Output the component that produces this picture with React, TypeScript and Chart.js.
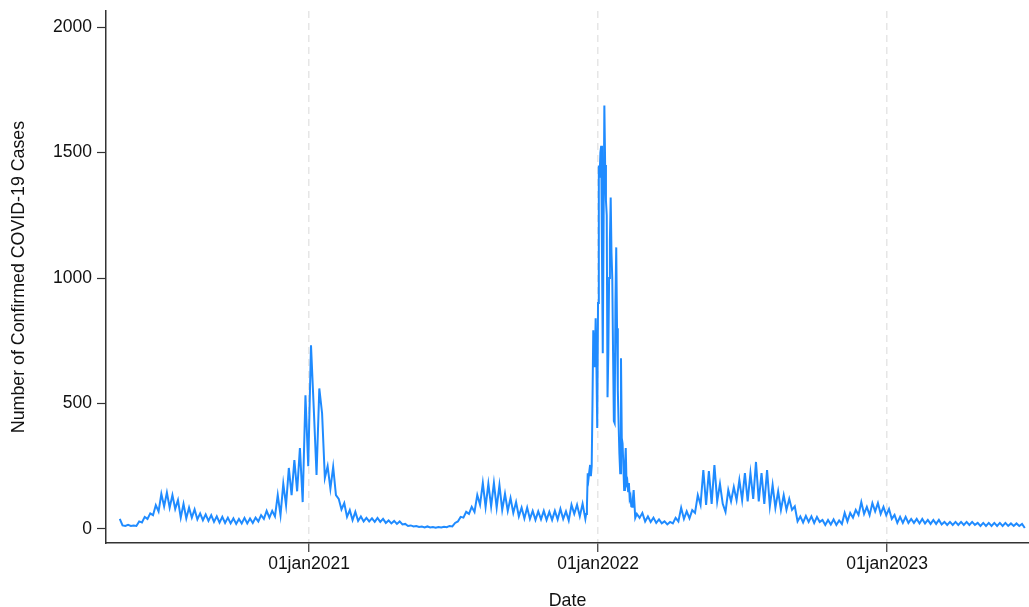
import { useEffect, useRef } from "react";
import { Chart, registerables } from "chart.js";

Chart.register(...registerables);

// Day numbers count from 1 Jan 2020 (day 0).
const earlyStartDay = 127; // 7 May 2020, half-weekly readings
const omicronStartDay = 716; // 17 Dec 2021, daily readings through the Omicron peak
const lateStartDay = 780; // 19 Feb 2022, half-weekly readings
const halfWeek = 3.5;

// Confirmed cases, May 2020 - mid Dec 2021
const earlyCases = [
  40, 14, 12, 16, 12, 14, 12, 30, 26, 48,
  40, 62, 55, 95, 70, 140, 90, 145, 85, 135,
  80, 115, 45, 100, 42, 85, 45, 78, 38, 62,
  35, 58, 32, 55, 28, 50, 25, 48, 24, 45,
  22, 42, 20, 40, 22, 44, 22, 42, 24, 45,
  30, 55, 40, 72, 45,
  72, 50, 135, 55, 180, 95, 243, 135, 274, 150,
  322, 107, 533, 250, 732, 480, 215, 560, 461, 203,
  250, 160, 247, 135, 120, 78, 103, 48, 75, 35,
  68, 32, 50, 30,
  44, 30, 42, 28, 44, 28, 40, 24, 34, 22,
  32, 20, 30, 18, 20, 12, 14, 10, 12, 8,
  10, 6, 10, 6, 8, 5, 8, 6, 9, 7,
  12, 10, 24, 30, 48, 45, 68, 60, 88, 68,
  135, 96, 183, 88, 180, 90, 183, 85, 175, 76,
  140, 72, 123, 64, 107, 50,
  85, 42, 85, 40, 72, 36, 70, 38, 72, 36,
  68, 36, 72, 38, 80, 40, 70, 34, 96, 60,
  96, 50, 100, 40,
];

// Confirmed cases, mid Dec 2021 - mid Feb 2022 (daily)
const omicronCases = [
  60, 90, 222, 200, 230, 255, 210, 250, 500, 792,
  700, 645, 840, 650, 402, 900, 1448, 1400, 1500, 1527,
  1100, 700, 1200, 1687, 1450, 1309, 1250, 525, 700, 1000,
  1150, 1321, 1100, 1000, 700, 430, 422, 900, 1122, 800,
  553, 420, 300, 222, 680, 362, 340, 250, 155, 250,
  322, 180, 190, 150, 183, 120, 130, 90, 88, 120,
  155, 100, 44,
];

// Confirmed cases, Feb 2022 - Jun 2023
const lateCases = [
  60, 44, 64, 30, 50, 28, 45, 24, 38, 22,
  30, 18, 28, 22, 44, 30, 84, 40, 70, 42,
  75, 64, 135, 96, 235, 96, 231, 100, 255, 110,
  180, 100, 68, 155, 110, 167, 115, 195, 115, 223,
  110, 223, 120, 267, 110, 223, 100, 235, 90, 175,
  84, 150, 76, 135, 76, 120, 76, 90, 30, 50,
  26, 52, 28, 50, 24, 48, 28, 36, 16, 36,
  18, 38, 16, 34, 20, 64, 30, 64, 45, 76,
  56, 107, 60, 88, 55, 103, 70, 103, 60, 88,
  55, 80, 40, 56, 24, 48, 24, 48, 24, 40,
  24, 40, 22, 40, 22, 36, 20, 36, 20, 36,
  18, 28, 16, 28, 16, 28, 16, 28, 16, 28,
  16, 28, 16, 24, 12, 24, 12, 24, 12, 24,
  12, 24, 12, 24, 12, 22, 12, 22, 12, 20,
  4,
];

const tickDays = [366, 731, 1096];
const tickLabels = ["01jan2021", "01jan2022", "01jan2023"];
const yTicks = [0, 500, 1000, 1500, 2000];

const FONT = '"Liberation Sans", Arial, Helvetica, sans-serif';
const TEXT = "#111111";
const AXIS = "#333333";

function buildPoints() {
  const pts: { x: number; y: number }[] = [];
  earlyCases.forEach((v, i) => pts.push({ x: earlyStartDay + i * halfWeek, y: v }));
  omicronCases.forEach((v, i) => pts.push({ x: omicronStartDay + i, y: v }));
  lateCases.forEach((v, i) => pts.push({ x: lateStartDay + i * halfWeek, y: v }));
  return pts;
}

export default function App() {
  const canvasRef = useRef<HTMLCanvasElement | null>(null);

  useEffect(() => {
    if (!canvasRef.current) return;
    const chart = new Chart(canvasRef.current, {
      type: "line",
      data: {
        datasets: [
          {
            data: buildPoints(),
            borderColor: "#1f8bff",
            borderWidth: 2,
            pointRadius: 0,
            tension: 0,
            fill: false,
          },
        ],
      },
      options: {
        animation: false,
        responsive: false,
        layout: { padding: { top: 11, right: 0, left: 0, bottom: 0 } },
        plugins: { legend: { display: false }, tooltip: { enabled: false } },
        scales: {
          x: {
            type: "linear",
            min: 109.6,
            max: 1275.3,
            afterBuildTicks: (s: any) => {
              s.ticks = tickDays.map((v) => ({ value: v }));
            },
            afterFit: (s: any) => {
              s.height = 64;
              s.paddingLeft = 0;
              s.paddingRight = 0;
            },
            ticks: {
              autoSkip: false,
              maxRotation: 0,
              padding: 2,
              color: TEXT,
              font: { family: FONT, size: 17.5 },
              callback: (v: any) => {
                const k = tickDays.indexOf(Number(v));
                return k >= 0 ? tickLabels[k] : "";
              },
            },
            grid: {
              color: "#e6e6e6",
              lineWidth: 1.5,
              drawOnChartArea: true,
              drawTicks: true,
              tickLength: 9,
              tickColor: AXIS,
              tickWidth: 1.2,
              tickBorderDash: [],
            },
            border: { display: true, color: AXIS, width: 1.5, dash: [7, 5] },
            title: {
              display: true,
              text: "Date",
              color: TEXT,
              font: { family: FONT, size: 17.8 },
              padding: { top: 0, bottom: -5 },
            },
          },
          y: {
            type: "linear",
            min: -56,
            max: 2064,
            afterBuildTicks: (s: any) => {
              s.ticks = yTicks.map((v) => ({ value: v }));
            },
            afterFit: (s: any) => {
              s.width = 106;
              s.paddingTop = 0;
              s.paddingBottom = 0;
            },
            ticks: {
              padding: 5,
              color: TEXT,
              font: { family: FONT, size: 17.5 },
              callback: (v: any) => String(v),
            },
            grid: {
              drawOnChartArea: false,
              drawTicks: true,
              tickLength: 9,
              tickColor: AXIS,
              tickWidth: 1.2,
            },
            border: { display: true, color: AXIS, width: 1.5 },
            title: {
              display: true,
              text: "Number of Confirmed COVID-19 Cases",
              color: TEXT,
              font: { family: FONT, size: 17.8 },
              padding: { top: 8, bottom: 0 },
            },
          },
        },
      },
    } as any);
    return () => chart.destroy();
  }, []);

  return (
    <div style={{ position: "fixed", left: 0, top: 0, width: 1029, height: 607, background: "#ffffff" }}>
      <canvas ref={canvasRef} width={1029} height={607} style={{ display: "block" }} />
    </div>
  );
}
